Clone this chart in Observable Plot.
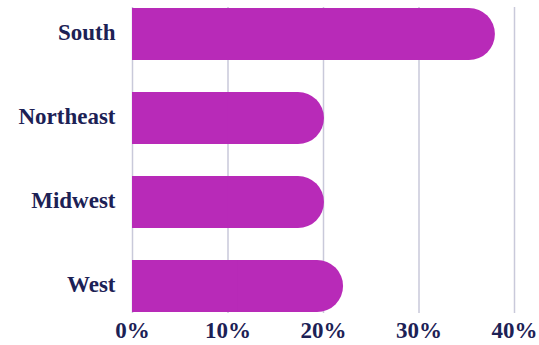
<!DOCTYPE html>
<html>
<head>
<meta charset="utf-8">
<script src="https://cdn.jsdelivr.net/npm/d3@7"></script>
<script src="https://cdn.jsdelivr.net/npm/@observablehq/plot@0.6"></script>
<style>
  html, body { margin: 0; padding: 0; background: #fff; }
  #chart svg text { font-family: "Liberation Serif", serif !important; }
</style>
</head>
<body>
<div id="chart"></div>
<script>
const regions = ["South", "Northeast", "Midwest", "West"];
const shares = [0.38, 0.201, 0.201, 0.221];
const xTicks = [0, 0.1, 0.2, 0.3, 0.4];

const data = regions.map((r, i) => ({region: r, value: shares[i]}));
const barColor = "#b82ab8";
const textColor = "#1c2155";

const chart = Plot.plot({
  width: 539,
  height: 345,
  marginTop: 7,
  marginBottom: 32,
  marginLeft: 132,
  marginRight: 25,
  style: {
    fontFamily: "'Liberation Serif', serif",
    fontSize: "23px",
    color: textColor,
    background: "#fff"
  },
  x: {domain: [0, 0.4], ticks: xTicks, tickFormat: d3.format(".0%"), label: null},
  y: {domain: regions, paddingInner: 0.385, paddingOuter: 0, label: null},
  marks: [
    Plot.gridX(xTicks, {stroke: "#c9c9da", strokeOpacity: 1, strokeWidth: 1.5}),
    Plot.barX(data, {y: "region", x: "value", fill: barColor, rx: 26}),
    Plot.barX(data, {y: "region", x1: 0, x2: d => d.value / 2, fill: barColor}),
    Plot.axisX(xTicks, {tickSize: 0, tickPadding: 8, tickFormat: d3.format(".0%"), fontSize: 23, fontWeight: 700, fill: textColor, label: null}),
    Plot.axisY({tickSize: 0, tickPadding: 17, dy: -2, fontSize: 23, fontWeight: 700, fill: textColor, label: null})
  ]
});
document.getElementById("chart").appendChild(chart);
</script>
</body>
</html>
